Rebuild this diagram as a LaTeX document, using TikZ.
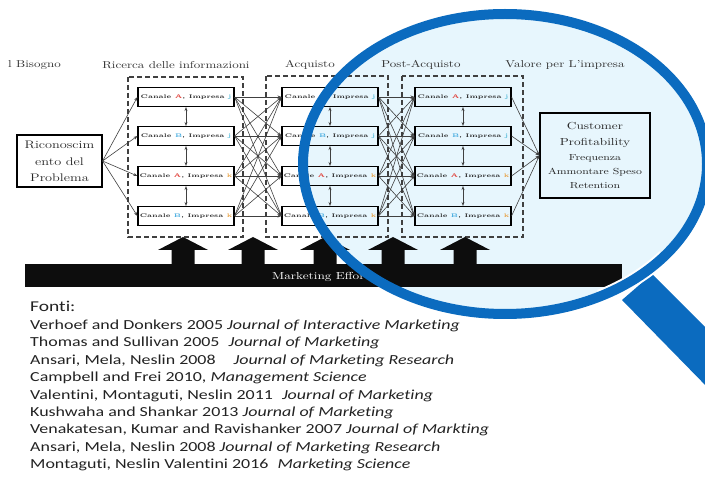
\documentclass[tikz,border=0pt]{standalone}
\usepackage{fontspec}
\usepackage{graphicx}
\newfontfamily\calib[Ligatures=NoCommon]{Carlito}
\usetikzlibrary{arrows.meta}

\definecolor{lensblue}{HTML}{0B6BBF}
\definecolor{lensfill}{HTML}{E7F6FD}
\definecolor{cA}{HTML}{E0413A}
\definecolor{cB}{HTML}{3AA6DD}
\definecolor{cj}{HTML}{4DB8D8}
\definecolor{ck}{HTML}{E8A040}
\definecolor{ink}{HTML}{222222}

% horizontal stretch applied to every text
\newcommand\sx[1]{\scalebox{1.3}[1]{#1}}

\tikzset{
  chan/.style={draw, line width=1.1pt, minimum width=96pt, minimum height=19pt,
    inner sep=0pt, text=black!85, font=\bfseries\fontsize{5.2}{6}\selectfont},
  bigbox/.style={draw, line width=1.1pt, inner sep=0pt},
  boxtxt/.style={inner sep=0pt, text=black!85},
  stage/.style={dash pattern=on 5pt off 3pt, line width=1.3pt, draw=black!75},
  conn/.style={draw=black!75, line width=0.6pt, -{Stealth[length=4pt,width=3pt]}},
  dconn/.style={draw=black!75, line width=0.6pt,
    {Stealth[length=4pt,width=3pt]}-{Stealth[length=4pt,width=3pt]}},
  head/.style={text=black!80, inner sep=0pt, font=\fontsize{10}{12}\selectfont},
  ref/.style={anchor=base west, inner sep=0pt, text=ink, font=\calib\fontsize{13.8}{16}\selectfont},
  effort/.style={fill=black!95},
}

\begin{document}
\begin{tikzpicture}[x=1pt, y=-1pt]
\useasboundingbox (0,0) rectangle (705,478);

% lens glass (under the diagram)
\fill[lensfill] (505,164) ellipse [x radius=202pt, y radius=150pt];

% stage titles
\node[head, anchor=west] (t0) at (8,65) {\sx{l Bisogno}};
\node[head] (t1) at (176,65) {\sx{Ricerca delle informazioni}};
\node[head] (t2) at (310,65) {\sx{Acquisto}};
\node[head] (t3) at (421,65) {\sx{Post-Acquisto}};
\node[head] (t4) at (565,65) {\sx{Valore per L'impresa}};

% dashed stage frames
\draw[stage] (128,77) rectangle (243,237);
\draw[stage] (266,76) rectangle (388,237);
\draw[stage] (402,76) rectangle (523,237);

% channel boxes of the three stages
\foreach \col/\x in {a/186, b/330, c/463} {
  \node[chan] (\col1) at (\x,97)  {\sx{Canale \textcolor{cA}{A}, Impresa \textcolor{cj}{j}}};
  \node[chan] (\col2) at (\x,136) {\sx{Canale \textcolor{cB}{B}, Impresa \textcolor{cj}{j}}};
  \node[chan] (\col3) at (\x,176) {\sx{Canale \textcolor{cA}{A}, Impresa \textcolor{ck}{k}}};
  \node[chan] (\col4) at (\x,216) {\sx{Canale \textcolor{cB}{B}, Impresa \textcolor{ck}{k}}};
}

% need recognition
\node[bigbox, minimum width=85pt, minimum height=52pt] (prob) at (59.5,161) {};
\node[boxtxt, font=\fontsize{11}{13}\selectfont] (p1) at (59.5,145) {\sx{Riconoscim}};
\node[boxtxt, font=\fontsize{11}{13}\selectfont] (p2) at (59.5,162) {\sx{ento del}};
\node[boxtxt, font=\fontsize{11}{13}\selectfont] (p3) at (59.5,178) {\sx{Problema}};

% customer value
\node[bigbox, minimum width=110pt, minimum height=85pt] (val) at (595,155.5) {};
\node[boxtxt, font=\fontsize{10.2}{12}\selectfont] (v1) at (595,126) {\sx{Customer}};
\node[boxtxt, font=\fontsize{10.2}{12}\selectfont] (v2) at (595,143) {\sx{Profitability}};
\node[boxtxt, font=\fontsize{8.8}{10}\selectfont] (v3) at (595,158) {\sx{Frequenza}};
\node[boxtxt, font=\fontsize{8.8}{10}\selectfont] (v4) at (595,172) {\sx{Ammontare Speso}};
\node[boxtxt, font=\fontsize{8.8}{10}\selectfont] (v5) at (595,186) {\sx{Retention}};

% connectors
\foreach \i in {1,...,4} {
  \draw[conn] (prob.east) -- (a\i.west);
  \draw[conn] (c\i.east) -- (val.west);
  \foreach \j in {1,...,4} {
    \draw[conn] (a\i.east) -- (b\j.west);
    \draw[conn] (b\i.east) -- (c\j.west);
  }
}
\foreach \col in {a,b,c} {
  \draw[dconn] (\col1.south) -- (\col2.north);
  \draw[dconn] (\col2.south) -- (\col3.north);
  \draw[dconn] (\col3.south) -- (\col4.north);
}

% marketing effort bar and its thrust arrows
\fill[effort] (25,264) rectangle (622,287);
\node[anchor=base west, inner sep=0pt, text=white, font=\fontsize{10.2}{12}\selectfont] (eff) at (272,280)
  {\sx{Marketing Effort}};
\foreach \cx in {183,253,325,393,465} {
  \fill[effort] (\cx,237) -- (\cx+25,250) -- (\cx+11.5,250) -- (\cx+11.5,264)
    -- (\cx-11.5,264) -- (\cx-11.5,250) -- (\cx-25,250) -- cycle;
}

% references
\node[ref, font=\calib\fontsize{15}{17}\selectfont] (fonti) at (30,312) {\sx{Fonti:}};
\node[ref] (r1) at (30,329.5) {\sx{Verhoef and Donkers 2005 \textit{Journal of Interactive Marketing}}};
\node[ref] (r2) at (30,346.9) {\sx{Thomas and Sullivan 2005\hspace{0.5em}\textit{Journal of Marketing}}};
\node[ref] (r3) at (30,364.3) {\sx{Ansari, Mela, Neslin 2008\hspace{1em}\textit{Journal of Marketing Research}}};
\node[ref] (r4) at (30,381.7) {\sx{Campbell and Frei 2010, \textit{Management Science}}};
\node[ref] (r5) at (30,399.1) {\sx{Valentini, Montaguti, Neslin 2011\hspace{0.5em}\textit{Journal of Marketing}}};
\node[ref] (r6) at (30,416.5) {\sx{Kushwaha and Shankar 2013 \textit{Journal of Marketing}}};
\node[ref] (r7) at (30,433.9) {\sx{Venakatesan, Kumar and Ravishanker 2007 \textit{Journal of Markting}}};
\node[ref] (r8) at (30,451.3) {\sx{Ansari, Mela, Neslin 2008 \textit{Journal of Marketing Research}}};
\node[ref] (r9) at (30,468.7) {\sx{Montaguti, Neslin Valentini 2016\hspace{0.5em}\textit{Marketing Science}}};

% magnifier handle and rim
\fill[lensblue] (652,274) -- (622,300) -- (712,392) -- (712,334) -- cycle;
\draw[white, line width=14pt] ([shift={(-62:202pt and 150pt)}]505,164)
  arc[start angle=-62, end angle=-38, x radius=202pt, y radius=150pt];
\draw[lensblue, line width=10pt] (505,164) ellipse [x radius=202pt, y radius=150pt];
\end{tikzpicture}
\end{document}
